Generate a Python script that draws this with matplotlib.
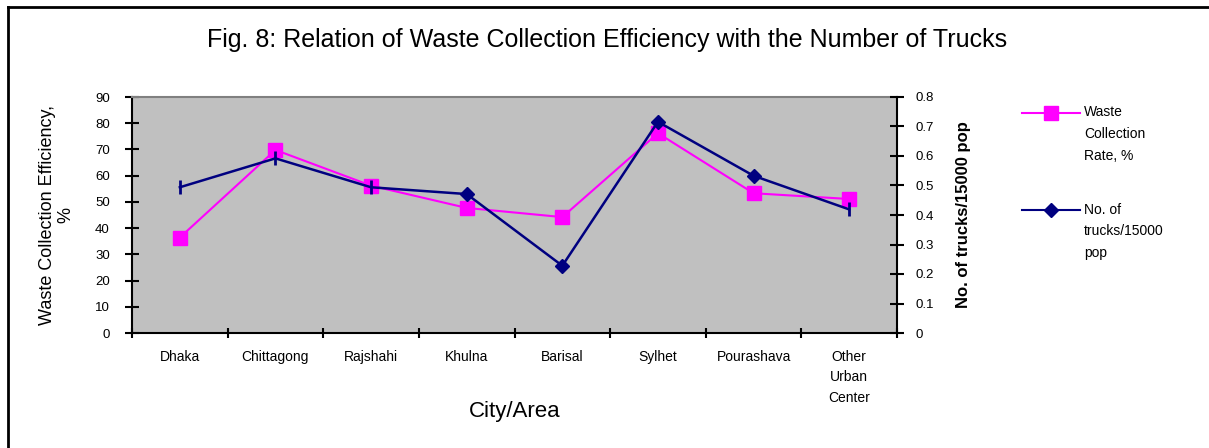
import matplotlib.pyplot as plt
from matplotlib.lines import Line2D

plt.rcParams["font.family"] = ["Liberation Sans", "DejaVu Sans"]

cities = ["Dhaka", "Chittagong", "Rajshahi", "Khulna", "Barisal",
          "Sylhet", "Pourashava", "Other\nUrban\nCenter"]
collection_rate = [36.4, 69.8, 56.2, 47.7, 44.2, 76.2, 53.3, 51.1]
trucks_per_15000 = [0.494, 0.592, 0.494, 0.471, 0.228, 0.716, 0.533, 0.419]
left_ticks = [0, 10, 20, 30, 40, 50, 60, 70, 80, 90]
right_ticks = [0, 0.1, 0.2, 0.3, 0.4, 0.5, 0.6, 0.7, 0.8]
right_tick_labels = ["0", "0.1", "0.2", "0.3", "0.4", "0.5", "0.6", "0.7", "0.8"]
rate_label = "Waste\nCollection\nRate, %"
trucks_label = "No. of\ntrucks/15000\npop"

PINK = "#ff00ff"
NAVY = "#000080"

fig = plt.figure(figsize=(12.09, 4.48), dpi=100)
ax = fig.add_axes([132 / 1209, 1 - 333 / 448, 765 / 1209, 236 / 448])
ax.set_facecolor("#c0c0c0")
ax2 = ax.twinx()

x = list(range(len(cities)))
ax.plot(x, collection_rate, color=PINK, lw=1.5, marker="s", ms=10,
        mec=PINK, mfc=PINK)
ax2.plot(x, trucks_per_15000, color=NAVY, lw=1.8, marker="D", ms=7.5,
         markevery=[3, 4, 5, 6])
ax2.plot(x, trucks_per_15000, ls="none", color=NAVY, marker="|", ms=10,
         mew=2, markevery=[0, 1, 2, 7])

ax.set_xlim(-0.5, len(cities) - 0.5)
ax.set_ylim(0, 90)
ax2.set_ylim(0, 0.8)

ax.set_xticks(x)
ax.set_xticklabels(cities, fontsize=10, linespacing=1.6)
ax.set_xticks([i - 0.5 for i in range(len(cities) + 1)], minor=True)
ax.tick_params(axis="x", which="major", length=0, pad=12)
ax.tick_params(axis="x", which="minor", direction="inout", length=7, width=1.5)
ax.set_yticks(left_ticks)
ax.tick_params(axis="y", direction="inout", length=10, width=1.5, pad=11,
               labelsize=9.5)
ax2.set_yticks(right_ticks)
ax2.set_yticklabels(right_tick_labels)
ax2.tick_params(axis="y", direction="inout", length=10, width=1.5, pad=8,
                labelsize=9.5)

for side in ("top", "left", "bottom"):
    ax2.spines[side].set_visible(False)
ax.spines["right"].set_visible(False)
ax.spines["top"].set_color("#808080")
for sp in (ax.spines["left"], ax.spines["bottom"], ax.spines["top"],
           ax2.spines["right"]):
    sp.set_linewidth(1.5)

ax.set_ylabel("Waste Collection Efficiency,\n%", fontsize=13,
              labelpad=15, linespacing=1.1)
ax2.set_ylabel("No. of trucks/15000 pop", fontsize=12,
               fontweight="bold", labelpad=16)
ax.set_xlabel("City/Area", fontsize=16)
ax.xaxis.set_label_coords(0.5, -0.29)

fig.text(0.5025, 0.91, "Fig. 8: Relation of Waste Collection Efficiency "
         "with the Number of Trucks", ha="center", va="center", fontsize=18)

# legend, drawn by hand so the sample sits next to the first label line
for label, color, marker, ms, top in [(rate_label, PINK, "s", 10, 113),
                                      (trucks_label, NAVY, "D", 7.5, 210)]:
    lax = fig.add_axes([1022 / 1209, 1 - (top + 5) / 448, 58 / 1209, 10 / 448])
    lax.set_axis_off()
    lax.set_xlim(0, 1)
    lax.set_ylim(0, 1)
    lax.plot([0, 0.5, 1], [0.5, 0.5, 0.5], color=color, lw=1.5,
             marker=marker, ms=ms, markevery=[1], clip_on=False)
    lax.text(1.07, 1.25, label, transform=lax.transAxes, ha="left", va="top",
             fontsize=10, linespacing=1.7)

# figure frame (only top and left edges visible)
fig.add_artist(Line2D([8 / 1209, 8 / 1209], [0, 1 - 7 / 448],
                      transform=fig.transFigure, color="black", lw=2))
fig.add_artist(Line2D([8 / 1209, 1], [1 - 7 / 448, 1 - 7 / 448],
                      transform=fig.transFigure, color="black", lw=2))

fig.savefig("out.png", dpi=100)
